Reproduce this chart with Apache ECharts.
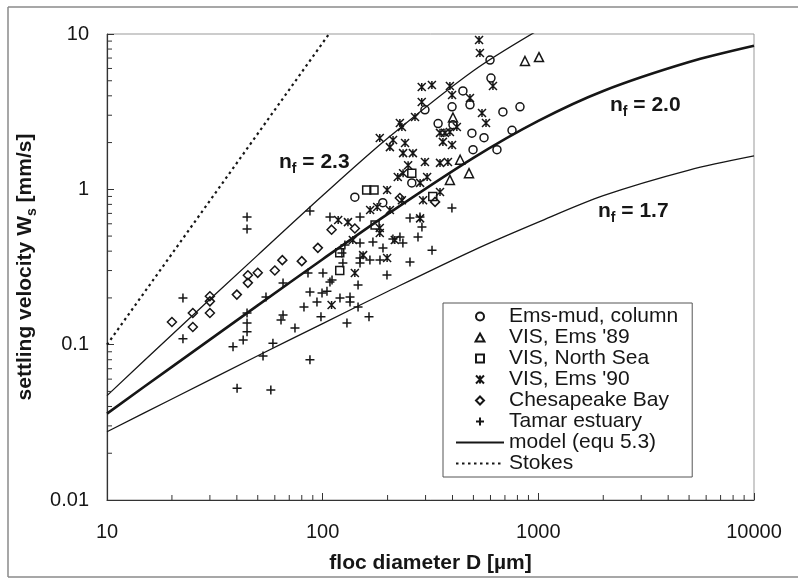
<!DOCTYPE html>
<html>
<head>
<meta charset="utf-8">
<script src="https://cdn.jsdelivr.net/npm/echarts@6/dist/echarts.min.js"></script>
<style>
  html, body { margin: 0; padding: 0; background: #fff; }
  #chart { width: 798px; height: 580px; }
</style>
</head>
<body>
<div id="chart"></div>
<script>
// Settling velocity of mud flocs against floc diameter (log-log)

// axis ranges and tick values
const xMin = 10, xMax = 10000;
const yMin = 0.01, yMax = 10;
const xTicks = [10, 100, 1000, 10000];
const xTickLabels = ['10', '100', '1000', '10000'];
const yTicks = [0.01, 0.1, 1, 10];
const yTickLabels = ['0.01', '0.1', '1', '10'];
const xMinorTicks = [20, 30, 40, 50, 60, 70, 80, 90, 200, 300, 400, 500, 600, 700, 800, 900,
                     2000, 3000, 4000, 5000, 6000, 7000, 8000, 9000];
const yMinorTicks = [0.02, 0.03, 0.04, 0.05, 0.06, 0.07, 0.08, 0.09, 0.2, 0.3, 0.4, 0.5, 0.6, 0.7, 0.8, 0.9,
                     2, 3, 4, 5, 6, 7, 8, 9];

// measurements: [floc diameter D (µm), settling velocity Ws (mm/s)]
const emsMud = [
  [597, 6.8], [603, 5.2], [447, 4.3], [482, 3.5], [685, 3.15], [822, 3.4], [398, 3.4],
  [298, 3.25], [343, 2.65], [402, 2.6], [492, 2.3], [560, 2.15], [498, 1.8], [643, 1.8],
  [755, 2.4], [259, 1.1], [141, 0.89], [190, 0.82]
];
const visEms89 = [
  [867, 6.7], [1007, 7.1], [434, 1.55], [477, 1.27], [389, 1.15], [402, 2.9]
];
const visNorthSea = [
  [160, 0.99], [173, 0.99], [175, 0.59], [120, 0.39], [120, 0.30], [259, 1.27], [324, 0.9]
];
const visEms90 = [
  [531, 9.15], [536, 7.55], [288, 4.56], [321, 4.7], [389, 4.63], [398, 4.05], [288, 3.65],
  [268, 2.92], [233, 2.52], [482, 3.87], [548, 3.1], [572, 2.67], [616, 4.63], [350, 2.31],
  [389, 2.34], [419, 2.52], [241, 1.99], [236, 1.71], [262, 1.71], [298, 1.5], [361, 2.02],
  [398, 1.93], [350, 1.48], [381, 1.5], [236, 1.27], [305, 1.2], [283, 1.1], [350, 0.96],
  [292, 0.85], [283, 0.65], [228, 2.67], [205, 1.87], [223, 1.2], [199, 0.99], [131, 0.615],
  [118, 0.634], [138, 0.472], [179, 0.77], [184, 2.14], [212, 2.08], [166, 0.736], [205, 0.736],
  [184, 0.563], [184, 0.523], [216, 0.472], [154, 0.377], [199, 0.361], [141, 0.289], [110, 0.18],
  [249, 1.43], [369, 2.31], [233, 0.85]
];
const chesapeake = [
  [20, 0.14], [25, 0.16], [25, 0.13], [30, 0.19], [30, 0.16], [30, 0.205], [40, 0.21],
  [45, 0.28], [45, 0.25], [50, 0.29], [60, 0.30], [65, 0.35], [80, 0.345], [95, 0.42],
  [110, 0.55], [141, 0.56], [228, 0.88], [332, 0.83]
];
const tamar = [
  [22.5, 0.20], [22.5, 0.109], [38.4, 0.097], [42.8, 0.107], [44.6, 0.138], [44.6, 0.121],
  [44.6, 0.16], [44.6, 0.664], [44.6, 0.555], [54.6, 0.203], [58.8, 0.102], [52.9, 0.0845],
  [40.1, 0.0525], [57.5, 0.051], [65.5, 0.249], [64.1, 0.144], [65.5, 0.155], [74.4, 0.128],
  [81.9, 0.175], [87.3, 0.218], [87.3, 0.08], [94.1, 0.188], [98.2, 0.151], [99.3, 0.215],
  [104.7, 0.221], [108.1, 0.253], [120.3, 0.2], [129.6, 0.138], [133.9, 0.203], [133.9, 0.188],
  [145.9, 0.175], [164, 0.151], [87.3, 0.725], [108.1, 0.664], [149, 0.664], [85.5, 0.289],
  [100.3, 0.289], [110.5, 0.261], [124.1, 0.335], [122.8, 0.389], [126.8, 0.438], [149, 0.451],
  [149, 0.361], [149, 0.335], [145.9, 0.242], [171, 0.458], [190.4, 0.419], [198.7, 0.281],
  [165.6, 0.351], [184.4, 0.351], [211.7, 0.479], [397.5, 0.759], [254, 0.654], [282.6, 0.664],
  [288.6, 0.572], [276.7, 0.493], [235.5, 0.451], [321.4, 0.406], [254, 0.34], [228.2, 0.493]
];

// model curves (equ 5.3) for three fractal dimensions, and the Stokes line
const modelD  = [10, 20, 50, 100, 200, 500, 1000, 2000, 5000, 10000];
const model23 = [0.047, 0.116, 0.377, 0.912, 2.13, 5.8, 10.6, null, null, null];
const model20 = [0.036, 0.072, 0.179, 0.355, 0.693, 1.595, 2.76, 4.3, 6.6, 8.4];
const model17 = [0.0275, 0.0447, 0.0848, 0.1367, 0.22, 0.405, 0.615, 0.91, 1.33, 1.64];
const stokesD = [10, 107];
const stokesW = [0.1, 10];

const INK = '#161616';
const FONT = '"Liberation Sans", Arial, sans-serif';

const pairs = (xs, ys) => xs.map((x, i) => [x, ys[i]]).filter(p => p[1] != null);
const tickLabel = (ticks, labels) => v => {
  let best = 0, bd = Infinity;
  ticks.forEach((t, i) => { const d = Math.abs(Math.log10(v) - Math.log10(t)); if (d < bd) { bd = d; best = i; } });
  return labels[best];
};

// marker outlines
const SYM_CROSS = 'path://M0,5L10,5M5,0L5,10';
const SYM_STAR = 'path://M0,0L10,10M10,0L0,10M5,0L5,10';
const SYM_TRI = 'path://M5,0L10,9L0,9Z';
const SYM_RECT = 'path://M0,0L10,0L10,10L0,10Z';
const SYM_DIAMOND = 'path://M5,0L10,5L5,10L0,5Z';
const SYM_CIRCLE = 'circle';

function scatter(name, data, symbol, size) {
  return {
    type: 'scatter', name, data, symbol, symbolSize: size,
    itemStyle: { color: 'rgba(0,0,0,0)', borderColor: INK, borderWidth: 1.5, opacity: 1 },
    emphasis: { disabled: true }, z: 3
  };
}
function modelLine(data, width) {
  return {
    type: 'line', name: 'model (equ 5.3)', data, symbol: 'none', showSymbol: false,
    smooth: 0.3, lineStyle: { color: INK, width }, itemStyle: { color: INK },
    emphasis: { disabled: true }, z: 2
  };
}
function minorTicks(values, axis) {
  return {
    type: 'custom', silent: true, clip: false, z: 5,
    data: values.map(v => axis === 'x' ? [v, yMin] : [xMin, v]),
    renderItem: (params, api) => {
      const p = api.coord([api.value(0), api.value(1)]);
      const shape = axis === 'x'
        ? { x1: p[0], y1: p[1], x2: p[0], y2: p[1] - 5 }
        : { x1: p[0], y1: p[1], x2: p[0] + 5, y2: p[1] };
      return { type: 'line', shape, style: { stroke: '#333', lineWidth: 1 } };
    }
  };
}

const richLabel = {
  n: { fontSize: 21, fontWeight: 'bold', fontFamily: FONT, fill: INK, color: INK, lineHeight: 21, verticalAlign: 'top' },
  f: { fontSize: 14, fontWeight: 'bold', fontFamily: FONT, fill: INK, color: INK, lineHeight: 14, padding: [10, 0, 0, 0], verticalAlign: 'top' }
};
const hiddenMarker = { color: 'rgba(0,0,0,0)', borderColor: 'rgba(0,0,0,0)', borderWidth: 0, opacity: 0 };

const chart = echarts.init(document.getElementById('chart'), null, { renderer: 'canvas' });
chart.setOption({
  animation: false,
  backgroundColor: '#fff',
  grid: { left: 107, right: 44, top: 34, bottom: 80, show: true, borderColor: '#999', borderWidth: 1 },
  xAxis: {
    type: 'log', logBase: 10, min: xMin, max: xMax,
    name: 'floc diameter D [µm]', nameLocation: 'middle', nameGap: 53,
    nameTextStyle: { fontSize: 21, fontWeight: 'bold', color: INK, fontFamily: FONT },
    axisLine: { lineStyle: { color: '#333', width: 1.2 } },
    axisTick: { inside: true, length: 7, lineStyle: { color: '#333' } },
    axisLabel: { fontSize: 20, color: INK, fontFamily: FONT, margin: 22, formatter: tickLabel(xTicks, xTickLabels) },
    splitLine: { show: false }
  },
  yAxis: {
    type: 'log', logBase: 10, min: yMin, max: yMax,
    name: '{t|settling velocity W}{s|s}{t| [mm/s]}', nameLocation: 'middle', nameGap: 69,
    nameTextStyle: {
      fontSize: 21, fontWeight: 'bold', color: INK, fontFamily: FONT,
      rich: {
        t: { fontSize: 21, fontWeight: 'bold', color: INK, fontFamily: FONT, lineHeight: 21, verticalAlign: 'top' },
        s: { fontSize: 14, fontWeight: 'bold', color: INK, fontFamily: FONT, lineHeight: 14, padding: [10, 0, 0, 0], verticalAlign: 'top' }
      }
    },
    axisLine: { lineStyle: { color: '#333', width: 1.2 } },
    axisTick: { inside: true, length: 7, lineStyle: { color: '#333' } },
    axisLabel: { fontSize: 20, color: INK, fontFamily: FONT, margin: 18, formatter: tickLabel(yTicks, yTickLabels) },
    splitLine: { show: false }
  },
  legend: {
    data: [
      { name: 'Ems-mud, column', icon: SYM_CIRCLE },
      { name: "VIS, Ems '89", icon: SYM_TRI },
      { name: 'VIS, North Sea', icon: SYM_RECT },
      { name: "VIS, Ems '90", icon: SYM_STAR },
      { name: 'Chesapeake Bay', icon: SYM_DIAMOND },
      { name: 'Tamar estuary', icon: SYM_CROSS },
      { name: 'model (equ 5.3)', itemStyle: hiddenMarker },
      { name: 'Stokes', itemStyle: hiddenMarker }
    ],
    orient: 'vertical', left: 443, top: 303,
    itemWidth: 48, itemHeight: 8, itemGap: 0, symbolKeepAspect: true,
    padding: [3, 14, 3, 12],
    borderColor: '#555', borderWidth: 1, borderRadius: 0, backgroundColor: '#fff',
    selectedMode: false,
    textStyle: { fontSize: 21, lineHeight: 21, color: INK, fontFamily: FONT }
  },
  series: [
    modelLine(pairs(modelD, model23), 1.3),
    modelLine(pairs(modelD, model20), 2.6),
    modelLine(pairs(modelD, model17), 1.3),
    {
      type: 'line', name: 'Stokes', data: pairs(stokesD, stokesW), symbol: 'none', showSymbol: false,
      lineStyle: { color: INK, width: 2.2, type: [2.5, 3.5] }, itemStyle: { color: INK },
      emphasis: { disabled: true }, z: 2
    },
    scatter('Ems-mud, column', emsMud, SYM_CIRCLE, 8),
    scatter("VIS, Ems '89", visEms89, 'triangle', 9),
    scatter('VIS, North Sea', visNorthSea, 'rect', 8),
    scatter("VIS, Ems '90", visEms90, SYM_STAR, 8),
    scatter('Chesapeake Bay', chesapeake, 'diamond', 9),
    scatter('Tamar estuary', tamar, SYM_CROSS, 9),
    minorTicks(xMinorTicks, 'x'),
    minorTicks(yMinorTicks, 'y')
  ],
  graphic: [
    // outer frame of the figure
    { type: 'line', shape: { x1: 8, y1: 7, x2: 798, y2: 7 }, style: { stroke: '#8a8a8a', lineWidth: 1.5 } },
    { type: 'line', shape: { x1: 8, y1: 7, x2: 8, y2: 577 }, style: { stroke: '#8a8a8a', lineWidth: 1.5 } },
    { type: 'line', shape: { x1: 8, y1: 577, x2: 798, y2: 577 }, style: { stroke: '#8a8a8a', lineWidth: 1.5 } },
    // fractal dimension labels
    { type: 'text', left: 279, top: 152, z: 10, style: { text: '{n|n}{f|f}{n| = 2.3}', rich: richLabel } },
    { type: 'text', left: 610, top: 95, z: 10, style: { text: '{n|n}{f|f}{n| = 2.0}', rich: richLabel } },
    { type: 'text', left: 598, top: 201, z: 10, style: { text: '{n|n}{f|f}{n| = 1.7}', rich: richLabel } }
  ]
});
</script>
</body>
</html>
